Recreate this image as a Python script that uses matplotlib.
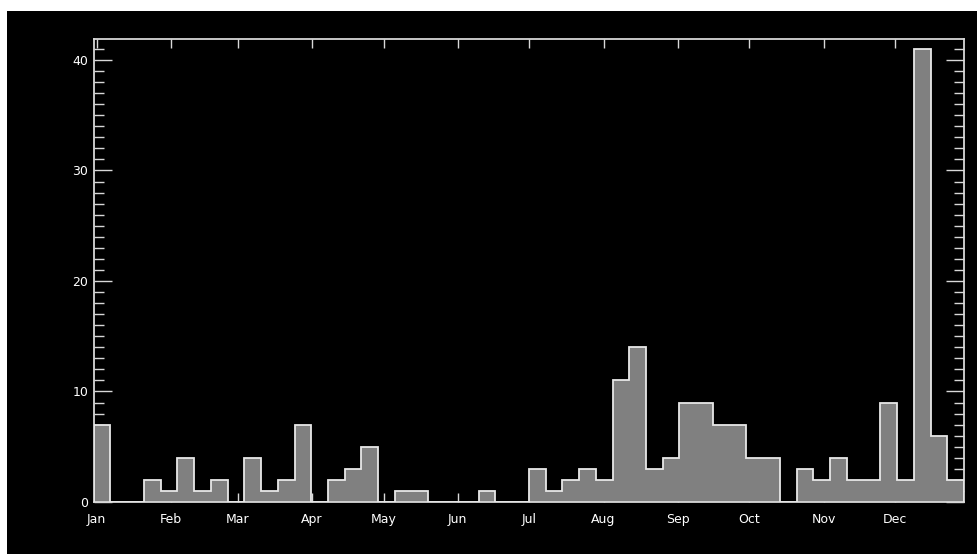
import numpy as np
import matplotlib
matplotlib.use("Agg")
import matplotlib.pyplot as plt
from matplotlib.patches import Rectangle
from matplotlib.ticker import MultipleLocator

# weekly counts, 52 bins starting just before Jan 1
counts = [7, 0, 0, 2, 1, 4, 1, 2, 0, 4, 1, 2, 7, 0, 2, 3, 5, 0, 1, 1,
          0, 0, 0, 1, 0, 0, 3, 1, 2, 3, 2, 11, 14, 3, 4, 9, 9, 7, 7, 4,
          4, 0, 3, 2, 4, 2, 2, 9, 2, 41, 6, 2]
first_edge = -1.25  # days relative to Jan 1
bin_days = 7

months = ['Jan', 'Feb', 'Mar', 'Apr', 'May', 'Jun',
          'Jul', 'Aug', 'Sep', 'Oct', 'Nov', 'Dec']
month_days = [31, 28, 31, 30, 31, 30, 31, 31, 30, 31, 30, 31]

edges = first_edge + bin_days * np.arange(len(counts) + 1)
month_starts = np.concatenate([[0], np.cumsum(month_days)[:-1]])

W, H = 978, 554
fig = plt.figure(figsize=(W / 100, H / 100), dpi=100, facecolor='white')
# black drawing area, white strip at top and left
fig.add_artist(Rectangle((7 / W, 0), 1 - 7 / W, (H - 11) / H,
                         transform=fig.transFigure, facecolor='black',
                         edgecolor='none', zorder=-10))

left, right, top, bottom = 93.7, 964, 39, 502
ax = fig.add_axes([left / W, (H - bottom) / H, (right - left) / W, (bottom - top) / H])
ax.set_facecolor('black')

ax.stairs(counts, edges, fill=True, color='#808080', zorder=2)
ax.stairs(counts, edges, fill=False, color='#e8e8e8', linewidth=1.3, zorder=3)

ax.set_xlim(edges[0], edges[-1])
ax.set_ylim(0, 41.9)

ax.set_xticks(month_starts)
ax.set_xticklabels(months)
ax.yaxis.set_major_locator(MultipleLocator(10))
ax.yaxis.set_minor_locator(MultipleLocator(1))

for s in ax.spines.values():
    s.set_color('#d8d8d8')
    s.set_linewidth(1.3)

ax.tick_params(axis='x', which='major', direction='in', length=6.5, width=1,
               color='#d8d8d8', top=True, labelcolor='white', labelsize=9, pad=8)
ax.tick_params(axis='y', which='major', direction='in', length=13, width=1,
               color='#d8d8d8', right=True, labelcolor='white', labelsize=9, pad=4)
ax.tick_params(axis='y', which='minor', direction='in', length=7, width=1,
               color='#d8d8d8', right=True)

plt.savefig('out.png', dpi=100, facecolor=fig.get_facecolor())
